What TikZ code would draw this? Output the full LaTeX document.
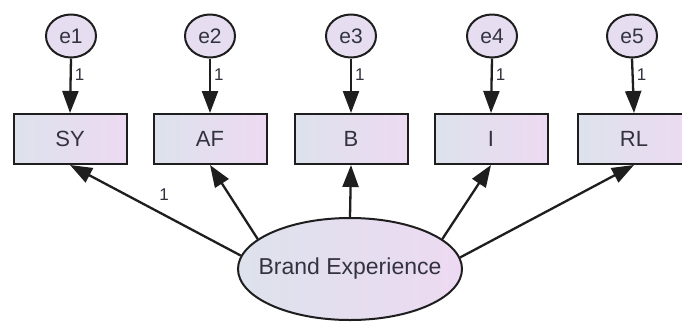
\documentclass[tikz,border=0pt]{standalone}
\usepackage{fontspec}
\setmainfont{Liberation Sans}
\usetikzlibrary{arrows.meta,shapes.geometric}
\definecolor{fillL}{HTML}{DDE2EC}
\definecolor{fillR}{HTML}{EDDAF2}
\definecolor{errfill}{HTML}{E6DDF0}
\definecolor{ink}{HTML}{33333F}
\definecolor{edge}{HTML}{1E1E1E}
\tikzset{
  obsbox/.style={draw=edge, line width=2pt, left color=fillL, right color=fillR,
    minimum width=113pt, minimum height=50pt, inner sep=0pt,
    font=\fontsize{22}{22}\selectfont, text=ink},
  errnode/.style={ellipse, draw=edge, line width=2pt, fill=errfill,
    minimum width=50pt, minimum height=43pt, inner sep=0pt,
    font=\fontsize{21}{21}\selectfont, text=ink},
  latent/.style={ellipse, draw=edge, line width=2pt, left color=fillL, right color=fillR,
    minimum width=224pt, minimum height=102pt, inner sep=0pt,
    font=\fontsize{23}{23}\selectfont, text=ink},
  path/.style={draw=edge, line width=2.3pt, -{Triangle[length=22pt,width=16pt]}},
  wlabel/.style={font=\fontsize{17}{17}\selectfont, text=ink, inner sep=0pt}
}
\begin{document}
\begin{tikzpicture}[x=1pt,y=-1pt]
  \useasboundingbox (0,0) rectangle (682,325);
  \clip (0,0) rectangle (682,325);
  \fill[white] (0,0) rectangle (682,325);

  % observed indicators
  \node[obsbox] (sy) at (70,139) {SY};
  \node[obsbox] (af) at (210,139) {AF};
  \node[obsbox] (b)  at (351,139) {B};
  \node[obsbox] (i)  at (491,139) {I};
  \node[obsbox] (rl) at (634,139) {RL};

  % error terms
  \node[errnode] (e1) at (71,36) {e1};
  \node[errnode] (e2) at (210,36) {e2};
  \node[errnode] (e3) at (351,36) {e3};
  \node[errnode] (e4) at (492,36) {e4};
  \node[errnode] (e5) at (632,36) {e5};

  % latent factor (zero-width text box so the ellipse keeps its set size)
  \node[latent] (be) at (350,269) {\makebox[0pt]{Brand Experience}};

  % error paths
  \draw[path] (e1.south) -- node[wlabel, pos=0.3, right=3pt] {1} (sy.north);
  \draw[path] (e2.south) -- node[wlabel, pos=0.3, right=3pt] {1} (af.north);
  \draw[path] (e3.south) -- node[wlabel, pos=0.3, right=3pt] {1} (b.north);
  \draw[path] (e4.south) -- node[wlabel, pos=0.3, right=3pt] {1} (i.north);
  \draw[path] (e5.south) -- node[wlabel, pos=0.3, right=3pt] {1} (rl.north);

  % factor loadings
  \draw[path] (be.173) -- (sy.south);
  \node[wlabel] (l1) at (164,195) {1};
  \draw[path] (be.162) -- (af.south);
  \draw[path] (be.north) -- (b.south);
  \draw[path] (be.18) -- (i.south);
  \draw[path] (be.6) -- (rl.south);
\end{tikzpicture}
\end{document}
